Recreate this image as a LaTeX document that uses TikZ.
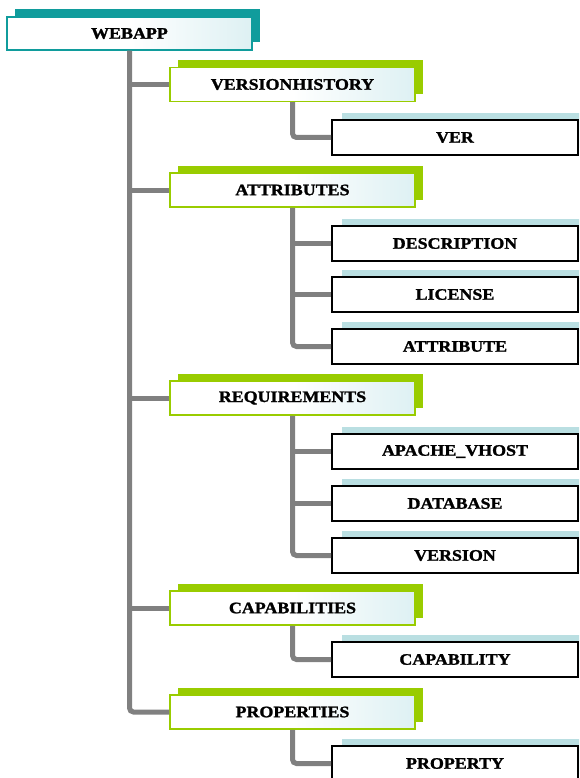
\documentclass[tikz,border=0pt]{standalone}
\usepackage{fontspec}
\setmainfont{Liberation Serif}[FakeStretch=1.12]
\newfontfamily\boxfont{Liberation Serif Bold}[FakeStretch=1.12, FakeBold=1.5]
\usetikzlibrary{shadows}
\definecolor{teal1}{HTML}{109C9C}
\definecolor{lime1}{HTML}{99CC00}
\definecolor{cyanlt}{HTML}{BCE2E7}
\definecolor{blueshadow}{HTML}{BADFE2}
\definecolor{conn}{HTML}{808080}
\pgfdeclarehorizontalshading{boxshade}{100bp}{color(0bp)=(white); color(50bp)=(white); color(100bp)=(cyanlt)}
\tikzset{
  lbl/.style={font=\boxfont\fontsize{16}{17}\selectfont, text=black, inner sep=0pt},
  rootbox/.style={lbl, draw=teal1, line width=1.5pt, shading=boxshade,
    minimum width=245pt, minimum height=33pt,
    general shadow={fill=teal1, shadow xshift=8pt, shadow yshift=8pt}},
  groupbox/.style={lbl, draw=lime1, line width=1.5pt, shading=boxshade,
    minimum width=245pt, minimum height=34pt,
    general shadow={fill=lime1, shadow xshift=8pt, shadow yshift=7pt}},
  leafbox/.style={lbl, draw=black, line width=2pt, fill=white,
    minimum width=246pt, minimum height=35pt,
    general shadow={fill=blueshadow, shadow xshift=10pt, shadow yshift=7pt}},
  link/.style={draw=conn, line width=5pt, rounded corners=4pt}
}
\begin{document}
\begin{tikzpicture}[x=1pt,y=-1pt]
\useasboundingbox (0,0) rectangle (579,778);
\clip (0,0) rectangle (579,778);
% root
\node[rootbox] (webapp) at (129.5,33.5) {WEBAPP};
% level 1
\node[groupbox] (vh)    at (292.5,84.5) {VERSIONHISTORY};
\node[groupbox] (attrs) at (292.5,190) {ATTRIBUTES};
\node[groupbox] (reqs)  at (292.5,398) {REQUIREMENTS};
\node[groupbox] (caps)  at (292.5,608) {CAPABILITIES};
\node[groupbox] (props) at (292.5,712) {PROPERTIES};
% level 2
\node[leafbox] (ver)    at (455,137.5) {VER};
\node[leafbox] (desc)   at (455,243.5) {DESCRIPTION};
\node[leafbox] (lic)    at (455,294.5) {LICENSE};
\node[leafbox] (attrib) at (455,346.5) {ATTRIBUTE};
\node[leafbox] (apache) at (455,451.5) {APACHE\_VHOST};
\node[leafbox] (db)     at (455,503.5) {DATABASE};
\node[leafbox] (versn)  at (455,555.5) {VERSION};
\node[leafbox] (cap)    at (455,659.5) {CAPABILITY};
\node[leafbox] (prop)   at (455,763.5) {PROPERTY};
% trunk
\draw[link] (webapp.south) |- (props.west);
\draw[link] (webapp.south |- vh.west) -- (vh.west);
\draw[link] (webapp.south |- attrs.west) -- (attrs.west);
\draw[link] (webapp.south |- reqs.west) -- (reqs.west);
\draw[link] (webapp.south |- caps.west) -- (caps.west);
% branches
\draw[link] (vh.south) |- (ver.west);
\draw[link] (attrs.south) |- (attrib.west);
\draw[link] (attrs.south |- desc.west) -- (desc.west);
\draw[link] (attrs.south |- lic.west) -- (lic.west);
\draw[link] (reqs.south) |- (versn.west);
\draw[link] (reqs.south |- apache.west) -- (apache.west);
\draw[link] (reqs.south |- db.west) -- (db.west);
\draw[link] (caps.south) |- (cap.west);
\draw[link] (props.south) |- (prop.west);
\end{tikzpicture}
\end{document}
